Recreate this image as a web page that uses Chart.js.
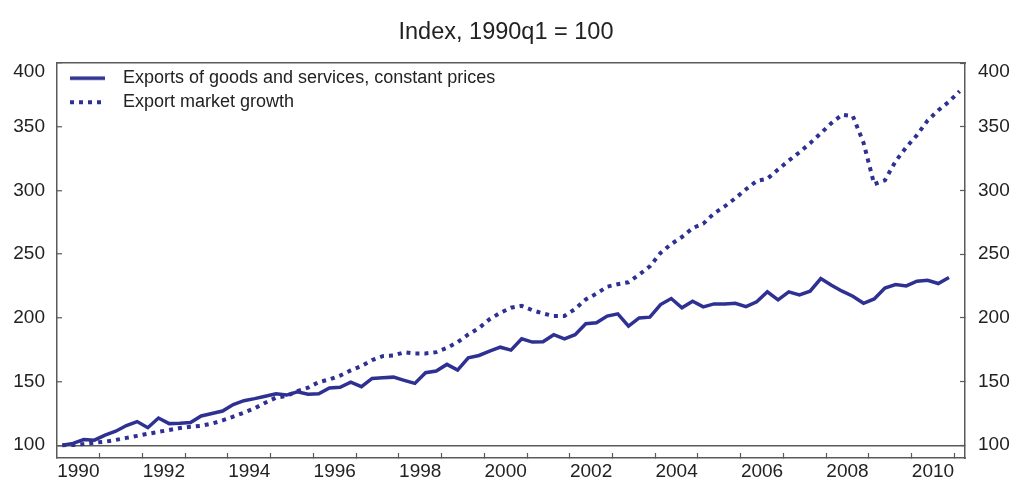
<!DOCTYPE html>
<html>
<head>
<meta charset="utf-8">
<script src="https://cdn.jsdelivr.net/npm/chart.js@4.4.1/dist/chart.umd.min.js"></script>
<style>
  html, body { margin: 0; padding: 0; background: #fff; }
  canvas { display: block; }
</style>
</head>
<body>
<canvas id="chart" width="1012" height="485"></canvas>
<script>
// quarterly data, 1990q1 = 100
const firstYear = 1990;

const exportsGoods = [
  100, 101.5, 104.5, 104, 108, 111, 115.5, 118.6,
  113.8, 121.4, 117, 117.3, 117.8, 123, 125, 126.9,
  132, 135, 136.6, 138.5, 140.5, 139.4, 142, 140,
  140.5, 145, 145.5, 149.6, 146, 152.5, 153, 153.5,
  151, 148.6, 157, 158.3, 163.5, 159, 168.7, 170.5,
  174, 177, 174.7, 183.6, 181, 181.3, 186.8, 183.6,
  186.8, 195.4, 196.2, 201.4, 203.2, 193.5, 200, 200.6,
  210.5, 215.2, 207.9, 213.1, 208.7, 211, 211, 211.5,
  208.9, 212.6, 220.5, 214.2, 220.5, 218.1, 221, 230.9,
  225.6, 221, 217, 211.5, 214.9, 223.5, 226.2, 225.1,
  228.8, 229.6, 227, 231.7
];

const exportMarket = [
  100, 100.3, 101, 102, 102.8, 104.2, 105.8, 107.4,
  109, 110.5, 112, 113.5, 114.5, 115.3, 117, 119.5,
  122.5, 125.6, 129, 133.4, 137.4, 138.7, 142.6, 145.2,
  149.6, 151.7, 154.7, 158.8, 162.2, 166.9, 170, 170.5,
  173, 172.1, 172.1, 173.1, 176.5, 181, 187, 192,
  199, 204, 208, 209.5, 206, 203.5, 201.5, 201.5,
  207, 214.5, 219, 224.5, 226.5, 228, 234, 240.5,
  251, 258, 263.5, 270.5, 274, 282, 287.5, 294,
  301, 307.5, 309.3, 316.5, 323.5, 330, 337.2, 345,
  353, 359.5, 358.5, 337.5, 305, 308, 323, 334,
  343.5, 355, 363, 369.8, 378
];

const seriesNames = ['Exports of goods and services, constant prices', 'Export market growth'];
const yTicks = [100, 150, 200, 250, 300, 350, 400];
const yearLabels = ['1990', '1992', '1994', '1996', '1998', '2000', '2002', '2004', '2006', '2008', '2010'];

const quarters = exportMarket.map((_, i) => `${firstYear + Math.floor(i / 4)}q${i % 4 + 1}`);

function quarterPos(label) {
  const [year, q] = label.split('q').map(Number);
  return year + (q - 0.5) / 4;
}

const xMin = firstYear;
const xMax = quarterPos(quarters[quarters.length - 1]) + 0.125;

const navy = '#2e3192';
const frame = '#5a5a5a';
const ink = '#222';

// legend sample drawn into a small canvas, used as point style
function swatch(dash) {
  const c = document.createElement('canvas');
  c.width = 51;
  c.height = 8;
  const g = c.getContext('2d');
  g.strokeStyle = navy;
  g.lineWidth = dash ? 4 : 3.5;
  g.setLineDash(dash || []);
  g.beginPath();
  g.moveTo(7, 4);
  g.lineTo(42, 4);
  g.stroke();
  return c;
}

// top tick label sits just under the frame
const nudgeTopLabels = {
  id: 'nudgeTopLabels',
  beforeDraw(chart) {
    ['y', 'y2'].forEach(id => {
      chart.scales[id].getLabelItems().forEach(item => {
        if (item.label === '400' && !item.nudged) {
          item.options.translation[1] += 9;
          item.nudged = true;
        }
      });
    });
  }
};

// vertical legend in the chart area loses its top, put it back
const legendInside = {
  id: 'legendInside',
  afterLayout(chart) {
    const lg = chart.legend;
    if (!lg) return;
    const h = lg.bottom - lg.top;
    lg.top = chart.chartArea.top;
    lg.bottom = lg.top + h;
  }
};

// fixed axis sizes, no extra label padding pushed into the layout
function fixWidth(w) {
  return (scale) => {
    scale.width = w;
    scale.paddingTop = 0;
    scale.paddingBottom = 0;
  };
}

Chart.defaults.font.family = "'Liberation Sans', Arial, sans-serif";
Chart.defaults.color = ink;

const ctx = document.getElementById('chart').getContext('2d');

new Chart(ctx, {
  type: 'line',
  data: {
    datasets: [
      {
        label: seriesNames[0],
        data: exportsGoods.map((v, i) => ({ x: quarterPos(quarters[i]), y: v })),
        borderColor: navy,
        borderWidth: 3.5,
        pointRadius: 0,
        pointStyle: swatch(null),
        tension: 0,
        yAxisID: 'y'
      },
      {
        label: seriesNames[1],
        data: exportMarket.map((v, i) => ({ x: quarterPos(quarters[i]), y: v })),
        borderColor: navy,
        borderWidth: 4,
        borderDash: [4, 5],
        borderCapStyle: 'butt',
        pointRadius: 0,
        pointStyle: swatch([4, 5]),
        tension: 0,
        yAxisID: 'y'
      }
    ]
  },
  options: {
    responsive: false,
    animation: false,
    devicePixelRatio: 1,
    layout: { padding: 0 },
    plugins: {
      title: {
        display: true,
        text: 'Index, 1990q1 = 100',
        color: ink,
        font: { size: 23.5, weight: 'normal' },
        padding: { top: 18, bottom: 17 }
      },
      legend: {
        position: 'chartArea',
        align: 'start',
        labels: {
          usePointStyle: true,
          pointStyleWidth: 51,
          padding: 6,
          color: ink,
          font: { size: 18 }
        }
      },
      tooltip: { enabled: false }
    },
    scales: {
      x: {
        type: 'linear',
        position: 'bottom',
        min: xMin,
        max: xMax,
        afterBuildTicks: (scale) => {
          const marks = [];
          for (let y = firstYear + 1; y <= Math.floor(xMax); y++) marks.push({ value: y });
          yearLabels.forEach(l => marks.push({ value: Number(l) + 0.5 }));
          marks.sort((a, b) => a.value - b.value);
          scale.ticks = marks;
        },
        afterFit: (scale) => { scale.height = 27; },
        ticks: {
          autoSkip: false,
          maxRotation: 0,
          padding: 7,
          color: ink,
          font: { size: 19 },
          callback: (value) => Number.isInteger(value) ? '' : String(Math.floor(value))
        },
        grid: {
          drawOnChartArea: false,
          drawTicks: true,
          tickLength: -5,
          tickWidth: 1.2,
          tickColor: (c) => (c.tick && Number.isInteger(c.tick.value)) ? frame : 'rgba(0,0,0,0)'
        },
        border: { display: true, color: frame, width: 1.5 }
      },
      xTop: {
        type: 'linear',
        position: 'top',
        min: xMin,
        max: xMax,
        afterFit: (scale) => { scale.height = 0; },
        ticks: { display: false },
        grid: { display: false, drawTicks: false },
        border: { display: true, color: frame, width: 1.5 }
      },
      y: {
        type: 'linear',
        position: 'left',
        min: 90,
        max: 400,
        afterBuildTicks: (scale) => { scale.ticks = yTicks.map(v => ({ value: v })); },
        afterFit: fixWidth(57),
        ticks: { padding: 17, color: ink, font: { size: 19 } },
        grid: {
          drawOnChartArea: true,
          drawTicks: true,
          tickLength: -5,
          lineWidth: 1.5,
          tickWidth: 1.2,
          color: (c) => (c.tick && c.tick.value === 100) ? frame : 'rgba(0,0,0,0)',
          tickColor: frame
        },
        border: { display: true, color: frame, width: 1.5 }
      },
      y2: {
        type: 'linear',
        position: 'right',
        min: 90,
        max: 400,
        afterBuildTicks: (scale) => { scale.ticks = yTicks.map(v => ({ value: v })); },
        afterFit: fixWidth(47),
        ticks: { padding: 18, color: ink, font: { size: 19 } },
        grid: {
          drawOnChartArea: false,
          drawTicks: true,
          tickLength: -5,
          tickWidth: 1.2,
          tickColor: frame
        },
        border: { display: true, color: frame, width: 1.5 }
      }
    }
  },
  plugins: [nudgeTopLabels, legendInside]
});
</script>
</body>
</html>
